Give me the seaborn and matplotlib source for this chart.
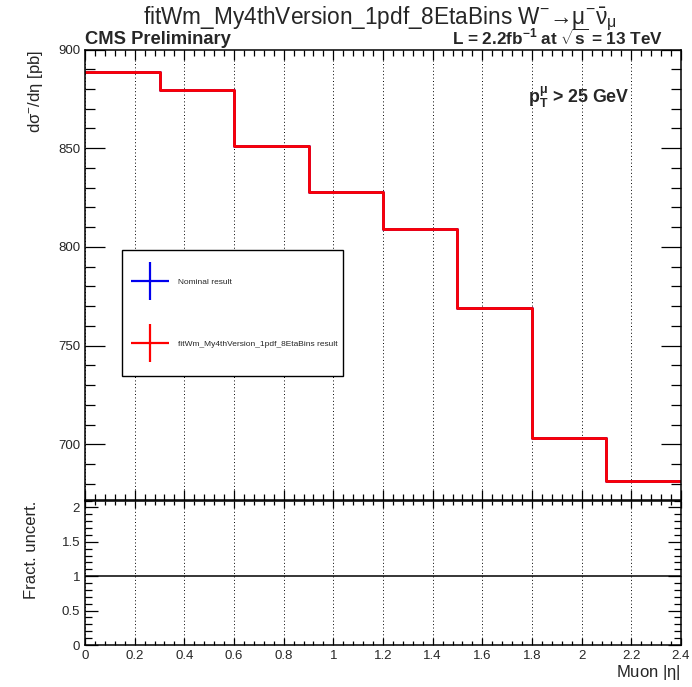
import matplotlib
matplotlib.use("Agg")
import matplotlib.pyplot as plt
import numpy as np
from matplotlib.lines import Line2D
from matplotlib.legend_handler import HandlerLine2D
from matplotlib.ticker import MultipleLocator, FormatStrFormatter
import pandas as pd
import seaborn as sns

# Muon |eta| bin edges and the differential cross section per bin [pb]
eta_edges = [0.0, 0.3, 0.6, 0.9, 1.2, 1.5, 1.8, 2.1, 2.4]
xsec_nominal = [888.8, 879.3, 851.1, 828.0, 808.9, 769.2, 703.3, 681.3]
xsec_fit = [888.8, 879.3, 851.1, 828.0, 808.9, 769.2, 703.3, 681.3]
fract_uncert = [1.0, 1.0, 1.0, 1.0, 1.0, 1.0, 1.0, 1.0]
x_ticks = [0, 0.2, 0.4, 0.6, 0.8, 1.0, 1.2, 1.4, 1.6, 1.8, 2.0, 2.2, 2.4]
x_tick_labels = ["0", "0.2", "0.4", "0.6", "0.8", "1", "1.2", "1.4", "1.6", "1.8", "2", "2.2", "2.4"]

fit_name = "fitWm_My4thVersion_1pdf_8EtaBins"

sns.set_style("ticks")
plt.rcParams["font.family"] = ["Liberation Sans", "DejaVu Sans"]
plt.rcParams["mathtext.fontset"] = "custom"
plt.rcParams["mathtext.rm"] = "Liberation Sans"
plt.rcParams["mathtext.it"] = "Liberation Sans:italic"
plt.rcParams["mathtext.bf"] = "Liberation Sans:bold"
plt.rcParams["mathtext.default"] = "regular"


class CrossHandler(HandlerLine2D):
    """Legend marker centred on the label text instead of above it."""

    def create_artists(self, legend, orig_handle, xdescent, ydescent,
                       width, height, fontsize, trans):
        artists = super().create_artists(legend, orig_handle, xdescent, ydescent,
                                         width, height, fontsize, trans)
        for art in artists:
            art.set_ydata(np.full_like(np.asarray(art.get_ydata(), float), 0.36 * fontsize))
        return artists


# step-post tables: repeat the last bin content at the upper edge
df = pd.DataFrame({
    "eta": eta_edges,
    "nominal": xsec_nominal + xsec_nominal[-1:],
    "fit": xsec_fit + xsec_fit[-1:],
    "ratio": fract_uncert + fract_uncert[-1:],
})

W, H = 692, 687
fig = plt.figure(figsize=(W / 100, H / 100), dpi=100)
fig.patch.set_facecolor("white")

left, right = 85, 681
ax = fig.add_axes([left / W, 1 - 500 / H, (right - left) / W, (500 - 49.5) / H])
axr = fig.add_axes([left / W, 1 - 645 / H, (right - left) / W, (645 - 500.5) / H])

BLUE = "#0000ee"
RED = "#ff0000"

sns.lineplot(data=df, x="eta", y="nominal", ax=ax, color=BLUE, lw=2.0,
             drawstyle="steps-post", estimator=None, sort=False)
sns.lineplot(data=df, x="eta", y="fit", ax=ax, color=RED, lw=2.0,
             drawstyle="steps-post", estimator=None, sort=False)
sns.lineplot(data=df, x="eta", y="ratio", ax=axr, color="black", lw=1.1,
             drawstyle="steps-post", estimator=None, sort=False)

for a in (ax, axr):
    a.set_xlim(0, 2.4)
    a.set_xticks(x_ticks)
    a.xaxis.set_minor_locator(MultipleLocator(0.04))
    a.grid(axis="x", which="major", color="black", lw=0.7, linestyle=(0, (1, 2.5)))
    a.set_axisbelow(True)
    for s in a.spines.values():
        s.set_linewidth(1.1)
        s.set_color("black")
    a.tick_params(which="both", direction="in", top=True, right=True,
                  color="black", width=0.9, labelsize=9.5, pad=3.5)

ax.set_ylim(671.8, 900)
ax.yaxis.set_major_locator(MultipleLocator(50))
ax.yaxis.set_minor_locator(MultipleLocator(10))
ax.tick_params(axis="y", which="major", length=14.4)
ax.tick_params(axis="y", which="minor", length=7.2)
ax.tick_params(axis="x", which="major", length=7.2, labelbottom=False)
ax.tick_params(axis="x", which="minor", length=4)
ax.set_xlabel("")
ax.set_ylabel(r"d$\sigma^{-}$/d$\eta$ [pb]", fontsize=12, loc="top")
ax.yaxis.set_label_coords(-0.067, 1.0)

axr.set_ylim(0, 2.1)
axr.yaxis.set_major_locator(MultipleLocator(0.5))
axr.yaxis.set_minor_locator(MultipleLocator(0.1))
axr.yaxis.set_major_formatter(FormatStrFormatter("%g"))
axr.set_xticklabels(x_tick_labels)
axr.tick_params(axis="y", which="major", length=9.4)
axr.tick_params(axis="y", which="minor", length=5)
axr.tick_params(axis="x", which="major", length=5)
axr.tick_params(axis="x", which="minor", length=3)
axr.set_ylabel("Fract. uncert.", fontsize=12, loc="top")
axr.yaxis.set_label_coords(-0.078, 1.0)
axr.set_xlabel(r"Muon |$\eta$|", fontsize=12, loc="right", labelpad=1)

# legend with cross-shaped handles
handles = [
    Line2D([], [], color=BLUE, marker="+", markersize=27.4, markeredgewidth=1.6, linestyle="none"),
    Line2D([], [], color=RED, marker="+", markersize=27.4, markeredgewidth=1.6, linestyle="none"),
]
labels = ["Nominal result", f"{fit_name} result"]
leg = ax.legend(handles, labels, loc="upper left", mode="expand",
                bbox_to_anchor=((122 - left) / (right - left), 0, (343 - 122) / (right - left), (500 - 250) / 450.5),
                borderaxespad=0, fontsize=6, handlelength=3.6, handleheight=6.64,
                handletextpad=1.56, labelspacing=2.88, borderpad=1.56, numpoints=1,
                fancybox=False, framealpha=1, edgecolor="black",
                handler_map={Line2D: CrossHandler()})
leg.get_frame().set_linewidth(1.0)

# header texts
fig.text(380 / W, 1 - 24 / H, fit_name + r" W$^{-}$→$\mu^{-}\bar{\nu}_{\mu}$",
         ha="center", va="baseline", fontsize=16.3)
fig.text(left / W, 1 - 44.5 / H, "CMS Preliminary", ha="left", va="baseline",
         fontsize=13.2, fontweight="bold")
fig.text(663 / W, 1 - 44.5 / H, r"L = 2.2fb$^{-1}$ at $\sqrt{s}$ = 13 TeV", ha="right",
         va="baseline", fontsize=12.3, fontweight="bold")
ax.text((528 - left) / (right - left), (500 - 103) / 450.5, r"p$_{T}^{\mu}$ > 25 GeV",
        transform=ax.transAxes, ha="left", va="baseline", fontsize=12.8, fontweight="bold")

fig.savefig("out.png", dpi=100, facecolor="white")
